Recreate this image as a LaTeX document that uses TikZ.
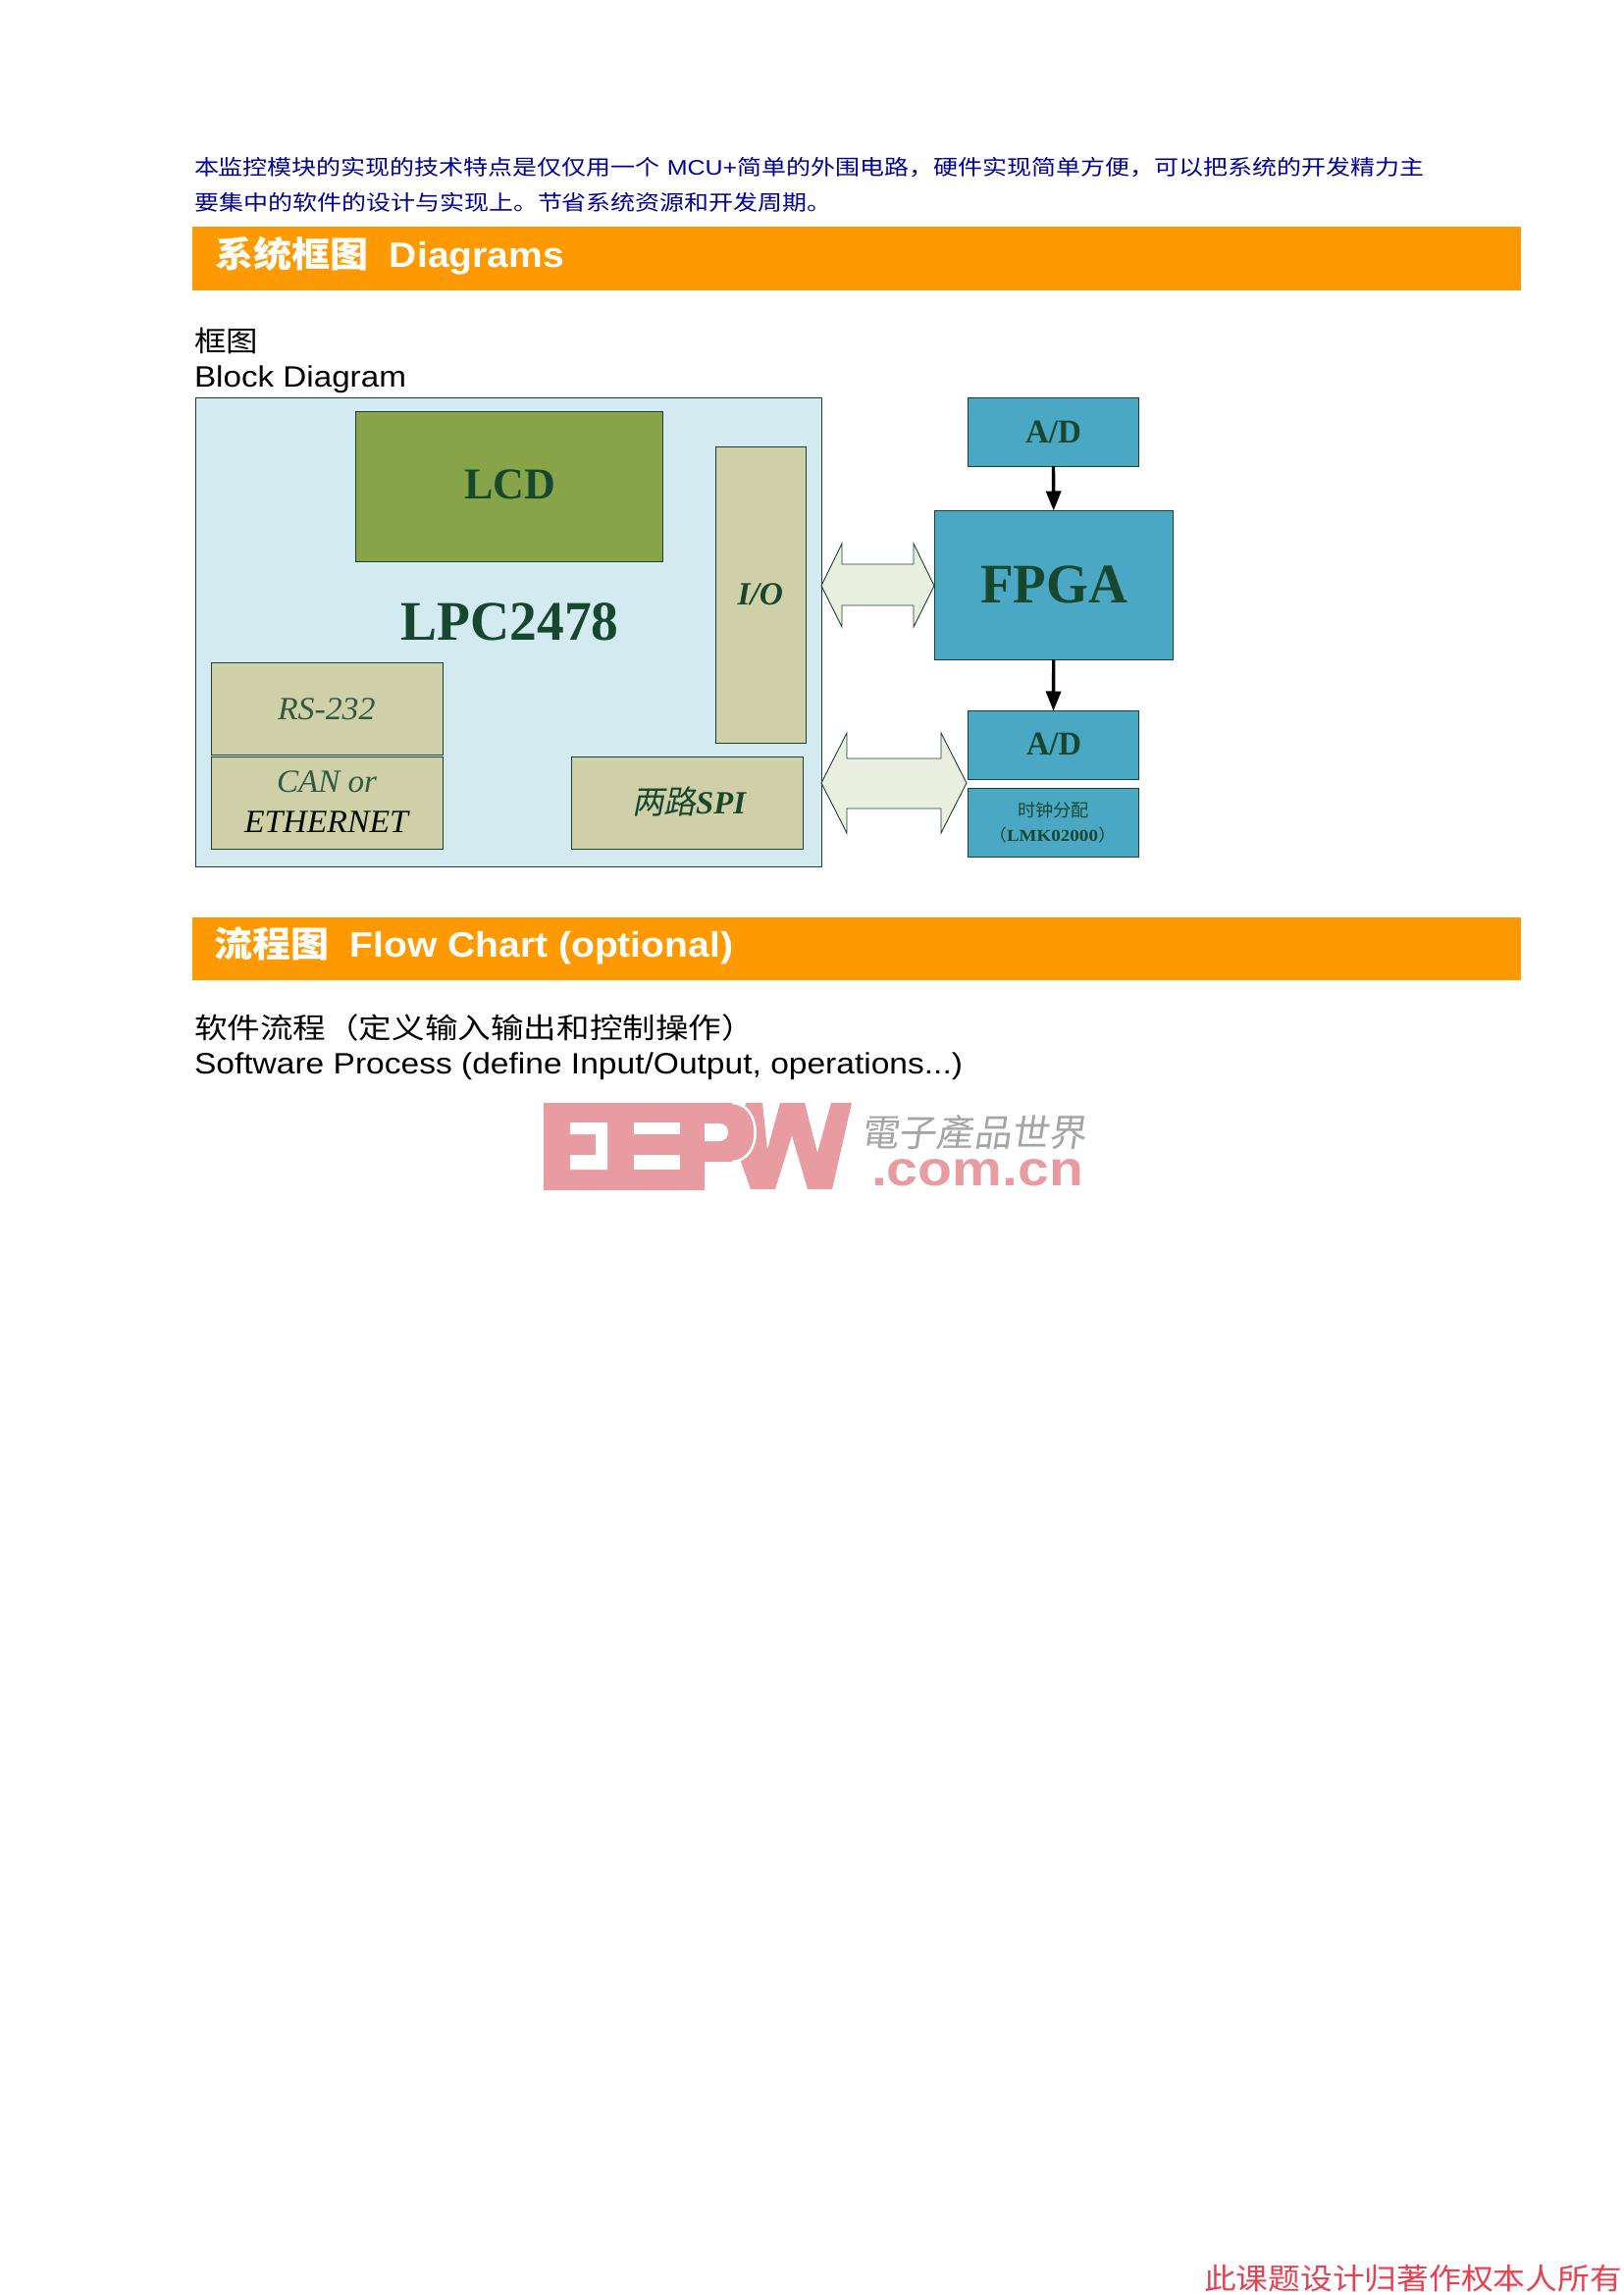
\documentclass[tikz,border=0pt]{standalone}
\usepackage{fontspec}
\usepackage{graphicx}
\usetikzlibrary{arrows.meta}
\setmainfont{Liberation Sans}
\newfontfamily\cjk{Noto Sans CJK SC}
\newfontfamily\cjktc[FakeSlant=0.15]{Noto Sans CJK TC}
\newfontfamily\cjkslant[FakeSlant=0.2]{Noto Sans CJK SC}
\newfontfamily\tms{Liberation Serif}
\definecolor{barorange}{HTML}{FF9900}
\definecolor{introblue}{HTML}{000099}
\definecolor{edge}{HTML}{1A4038}
\definecolor{chipblue}{HTML}{D2EAF0}
\definecolor{lcdgreen}{HTML}{87A548}
\definecolor{tan}{HTML}{D0D0A8}
\definecolor{teal}{HTML}{4BA8C5}
\definecolor{palearrow}{HTML}{EAF0DF}
\definecolor{labelgreen}{HTML}{17472F}
\definecolor{thingreen}{HTML}{2F5A3F}
\definecolor{logopink}{HTML}{E89BA0}
\definecolor{logogray}{HTML}{A5A5A5}
\definecolor{redtext}{HTML}{E84050}
\tikzset{
  x=1pt,y=-1pt,
  plate/.style={draw=edge,line width=0.9pt,inner sep=0pt,outer sep=0pt,anchor=north west},
  chip/.style={plate,fill=chipblue},
  lcdbox/.style={plate,fill=lcdgreen},
  tanbox/.style={plate,fill=tan},
  tealbox/.style={plate,fill=teal},
  bar/.style={fill=barorange,inner sep=0pt,outer sep=0pt,anchor=north west},
  blockarrow/.style={draw=edge,line width=0.9pt,fill=palearrow,line join=miter},
  flow/.style={line width=3.4pt,-{Triangle[length=20pt,width=15pt]}},
}
\newcommand{\bx}[6]{\pgfmathsetmacro\bw{#5-#3}\pgfmathsetmacro\bh{#6-#4}\node[#2,minimum width=\bw pt,minimum height=\bh pt] (#1) at (#3,#4) {};}
\newcommand{\tx}[7]{\node[anchor=base west,inner sep=0pt,outer sep=0pt,text=#4] (#1) at (#2,#3) {\fontsize{#6pt}{#6pt}\selectfont\resizebox{#5pt}{\height}{#7}};}
\begin{document}
\begin{tikzpicture}
\useasboundingbox (0,0) rectangle (1654,2339);
\fill[white] (0,0) rectangle (1654,2339);
% intro
\tx{introa}{198}{178}{introblue}{1253}{21.5}{{\cjk 本监控模块的实现的技术特点是仅仅用一个} MCU+{\cjk 简单的外围电路，硬件实现简单方便，可以把系统的开发精力主}}
\tx{introb}{198}{214}{introblue}{650}{21.5}{\cjk 要集中的软件的设计与实现上。节省系统资源和开发周期。}
% section bars
\bx{bara}{bar}{196}{231}{1549.5}{296}
\tx{heada}{219}{272}{white}{356}{36}{{\cjk\bfseries 系统框图}\hspace{20pt}{\bfseries Diagrams}}
\tx{capa}{198}{358}{black}{65}{29}{\cjk 框图}
\tx{capb}{198}{394}{black}{216}{30}{Block Diagram}
\bx{barb}{bar}{196}{935}{1549.5}{999}
\tx{headb}{218}{975}{white}{529}{36}{{\cjk\bfseries 流程图}\hspace{20pt}{\bfseries Flow Chart (optional)}}
\tx{capc}{198}{1058}{black}{571}{29}{\cjk 软件流程（定义输入输出和控制操作）}
\tx{capd}{198}{1094}{black}{783}{30}{Software Process (define Input/Output, operations...)}
% LPC2478 block
\bx{lpc}{chip}{199.5}{405.5}{837.5}{883}
\bx{lcd}{lcdbox}{362.5}{419.5}{675}{572.5}
\bx{io}{tanbox}{729.5}{455.5}{821.5}{757}
\bx{rs}{tanbox}{215.5}{675.5}{451.5}{769}
\bx{can}{tanbox}{215.5}{771.5}{451.5}{865}
\bx{spi}{tanbox}{582.5}{771.5}{818}{865}
\tx{tlcd}{473}{508}{labelgreen}{93}{45}{\tms\bfseries LCD}
\tx{tlpc}{408.5}{652.5}{labelgreen}{222}{57}{\tms\bfseries LPC2478}
\tx{tio}{751.5}{616}{labelgreen}{46.5}{33}{\tms\bfseries\itshape I/O}
\tx{trs}{283}{733}{thingreen}{99.5}{33}{\tms\itshape RS-232}
\tx{tcan}{282}{807}{thingreen}{102}{33}{\tms\itshape CAN or}
\tx{teth}{249}{848}{black!85!labelgreen}{167}{33}{\tms\itshape ETHERNET}
\tx{tspi}{644}{829}{labelgreen}{116}{33}{{\cjkslant 两路}{\tms\bfseries\itshape SPI}}
% right blocks
\bx{adtop}{tealbox}{986.5}{405.5}{1160.5}{475}
\bx{fpga}{tealbox}{952.5}{520.5}{1195}{672}
\bx{adbot}{tealbox}{986.5}{724.5}{1160.5}{794}
\bx{clk}{tealbox}{986.5}{803.5}{1160.5}{873}
\tx{tadt}{1045}{451}{labelgreen}{57}{34}{\tms\bfseries A/D}
\tx{tfpga}{999}{614}{labelgreen}{150}{57}{\tms\bfseries FPGA}
\tx{tadb}{1046}{769}{labelgreen}{56}{34}{\tms\bfseries A/D}
\tx{tclk}{1037}{832}{labelgreen}{73}{18}{\cjk 时钟分配}
\tx{tlmk}{1007}{857}{labelgreen}{131}{17}{{\cjk （}{\tms\bfseries LMK02000}{\cjk ）}}
% connectors
\draw[flow] (adtop.south) -- (fpga.north);
\draw[flow] (fpga.south) -- (adbot.north);
% block double arrows
\draw[blockarrow] (837,597) -- (858,554) -- (858,575) -- (931,575) -- (931,554) -- (952,597) -- (931,639) -- (931,617) -- (858,617) -- (858,639) -- cycle;
\draw[blockarrow] (837,798) -- (863,747) -- (863,773) -- (959,773) -- (959,747) -- (985,798) -- (959,849) -- (959,824) -- (863,824) -- (863,849) -- cycle;
% watermark logo
\fill[logopink] (760,1124) -- (777,1124) -- (782,1172) -- (795,1124) -- (820,1124) -- (833,1175) -- (847,1124) -- (868,1124) -- (848,1212) -- (823,1212) -- (807,1157) -- (790,1212) -- (765,1212) -- (750,1170) -- cycle;
\filldraw[fill=logopink,draw=white,line width=2.5pt] (745,1124) .. controls (778,1124) and (778,1184) .. (745,1184);
\fill[logopink] (554,1124) -- (746,1124) -- (746,1184) -- (718,1184) -- (718,1213) -- (554,1213) -- cycle;
\fill[white] (581,1144) -- (619,1144) -- (619,1192) -- (581,1192) -- (581,1177) -- (607,1177) -- (607,1156) -- (581,1156) -- cycle;
\fill[white] (646,1144) rectangle (693,1156);
\fill[white] (646,1177) rectangle (693,1192);
\fill[white] (718,1145) -- (733,1145) .. controls (745,1145) and (745,1163) .. (733,1163) -- (718,1163) -- cycle;
\tx{tlogoa}{877}{1168}{logogray}{230}{38}{\cjktc 電子產品世界}
\tx{tlogob}{888}{1208}{logopink}{216}{50}{\bfseries .com.cn}
% footer
\tx{tfoot}{1227}{2333}{redtext}{426}{30}{\cjk 此课题设计归著作权本人所有}
\end{tikzpicture}
\end{document}
